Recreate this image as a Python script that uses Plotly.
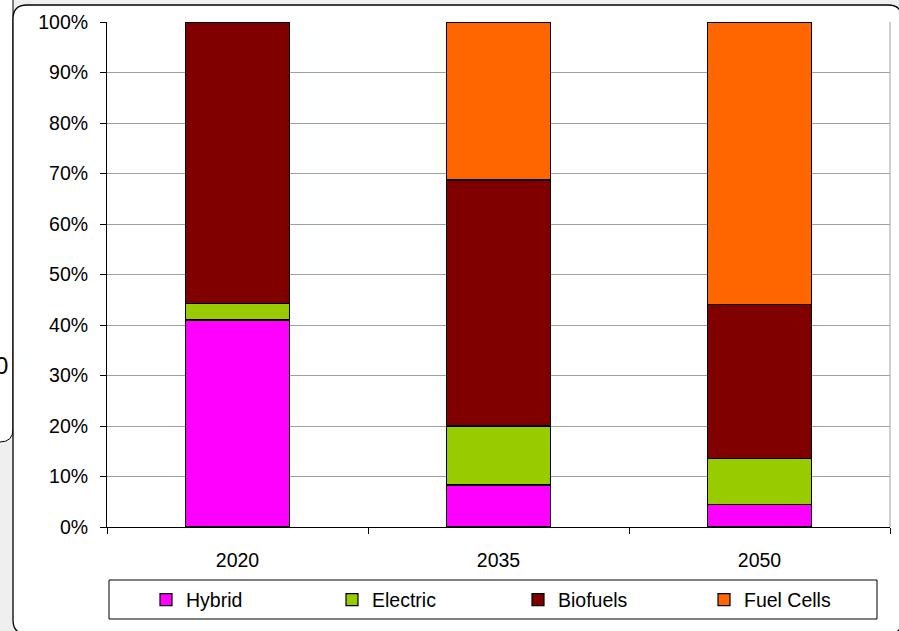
import plotly.graph_objects as go

years = ["2020", "2035", "2050"]
series_names = ["Hybrid", "Electric", "Biofuels", "Fuel Cells"]
hybrid = [41.0, 8.3, 4.4]
electric = [3.2, 11.7, 9.1]
biofuels = [55.8, 48.7, 30.5]
fuel_cells = [0.0, 31.3, 56.0]
colors = ["#FF00FF", "#99CC00", "#800000", "#FF6600"]
y_ticks = list(range(0, 101, 10))
y_tick_labels = [f"{v}%" for v in y_ticks]

W, H = 899, 631
L, R, T, B = 107, 890, 22, 527

def fx(px):
    return (px - L) / (R - L)

def fy(py):
    return (B - py) / (B - T)

fig = go.Figure()
for name, vals, col in zip(series_names, [hybrid, electric, biofuels, fuel_cells], colors):
    fig.add_trace(go.Bar(
        x=years, y=vals, name=name,
        marker=dict(color=col, line=dict(color="black", width=1.2)),
        width=0.4,
    ))

def rounded_path(x0, y0, x1, y1, r):
    pts = [
        ("M", [(x0 + r, y0)]),
        ("L", [(x1 - r, y0)]),
        ("Q", [(x1, y0), (x1, y0 + r)]),
        ("L", [(x1, y1 - r)]),
        ("Q", [(x1, y1), (x1 - r, y1)]),
        ("L", [(x0 + r, y1)]),
        ("Q", [(x0, y1), (x0, y1 - r)]),
        ("L", [(x0, y0 + r)]),
        ("Q", [(x0, y0), (x0 + r, y0)]),
    ]
    s = ""
    for cmd, ps in pts:
        s += cmd + " ".join(f"{fx(a):.5f},{fy(b):.5f}" for a, b in ps) + " "
    return s + "Z"

shapes = [
    dict(type="path", xref="paper", yref="paper", layer="below",
         path=rounded_path(-30, -30, 13, 442, 13),
         fillcolor="white", line=dict(color="#000000", width=1)),
    dict(type="path", xref="paper", yref="paper", layer="below",
         path=rounded_path(13, 5, 902, 634, 14),
         fillcolor="white", line=dict(color="#000000", width=1.3)),
    dict(type="line", xref="paper", yref="paper", x0=1, x1=1, y0=0, y1=1,
         line=dict(color="#a0a0a0", width=1)),
    dict(type="rect", xref="paper", yref="paper",
         x0=fx(109), x1=fx(877), y0=fy(580), y1=fy(619),
         line=dict(color="black", width=1), fillcolor="rgba(0,0,0,0)"),
]

fig.update_layout(
    width=W, height=H,
    margin=dict(l=L, r=W - R, t=T, b=H - B, autoexpand=False),
    paper_bgcolor="#efefef",
    plot_bgcolor="white",
    barmode="stack",
    font=dict(family="Liberation Sans, Arial, sans-serif", size=19.5, color="black"),
    shapes=shapes,
    showlegend=True,
    legend=dict(
        orientation="h", x=fx(146), y=fy(600), xanchor="left", yanchor="middle",
        bgcolor="rgba(0,0,0,0)", borderwidth=0, entrywidth=141,
        traceorder="normal", font=dict(size=19.5),
    ),
    annotations=[dict(text="0", x=fx(10), y=fy(366), xref="paper", yref="paper",
                      xanchor="right", yanchor="middle", showarrow=False,
                      font=dict(size=24))],
    xaxis=dict(
        type="category", showline=True, linecolor="black", linewidth=1,
        ticks="outside", tickson="boundaries", ticklen=6, tickcolor="black",
        showgrid=False, fixedrange=True, ticklabelstandoff=16,
    ),
    yaxis=dict(
        range=[0, 100], tickvals=y_ticks, ticktext=y_tick_labels,
        showline=True, linecolor="black", linewidth=1,
        ticks="outside", ticklen=6, tickcolor="black", ticklabelstandoff=8,
        showgrid=True, gridcolor="#a0a0a0", gridwidth=1, zeroline=False,
    ),
)

fig.write_html("out.html")
